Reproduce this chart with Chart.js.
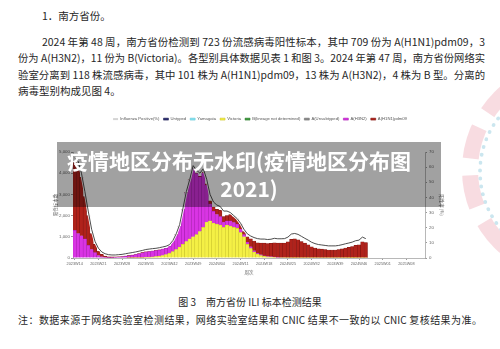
<!DOCTYPE html>
<html>
<head>
<meta charset="utf-8">
<script src="https://cdn.jsdelivr.net/npm/chart.js@4/dist/chart.umd.min.js"></script>
<style>
  html, body { margin: 0; padding: 0; background: #fff; }
  body { width: 500px; height: 349px; position: relative; overflow: hidden;
         font-family: "Noto Sans CJK SC", "Noto Sans", sans-serif; color: #262626; }
  .ln { position: absolute; font-size: 10.5px; line-height: 14px; white-space: nowrap; }
  .j { position: absolute; font-size: 10.5px; line-height: 14px;
       text-align: justify; text-align-last: justify; overflow: visible; }
  #deco1 { position: absolute; left: 462px; top: 60px; width: 220px; height: 220px; border-radius: 50%;
           border: 16px dashed rgba(232, 150, 165, 0.33); box-sizing: border-box; }
  #deco2 { position: absolute; left: 478px; top: 82px; width: 180px; height: 180px; border-radius: 50%;
           border: 4px dotted rgba(140, 200, 220, 0.45); box-sizing: border-box; }
  #chartBox { position: absolute; left: 48px; top: 104px; width: 404px; height: 172px; }
  #banner { position: absolute; left: 57px; top: 142px; width: 384px; height: 65px;
            background: rgba(0, 0, 0, 0.37); }
  .bt { position: absolute; color: #fff; font-weight: 700; font-size: 21px; line-height: 28px;
        white-space: nowrap; font-family: "Noto Sans CJK SC", sans-serif; }
</style>
</head>
<body>
<div id="deco1"></div>
<div id="deco2"></div>

<div class="ln" style="left:42px; top:9px;">1．南方省份。</div>
<div class="j" style="left:42px; top:34.5px; width:443px;">2024 年第 48 周，南方省份检测到 723 份流感病毒阳性标本，其中 709 份为 A(H1N1)pdm09，3</div>
<div class="j" style="left:18px; top:51px; width:467px;">份为 A(H3N2)，11 份为 B(Victoria)。各型别具体数据见表 1 和图 3。2024 年第 47 周，南方省份网络实</div>
<div class="j" style="left:18px; top:67.5px; width:467px;">验室分离到 118 株流感病毒，其中 101 株为 A(H1N1)pdm09，13 株为 A(H3N2)，4 株为 B 型。分离的</div>
<div class="ln" style="left:18px; top:84px;">病毒型别构成见图 4。</div>

<div id="chartBox"><canvas id="c" width="404" height="172"></canvas></div>

<div id="banner"></div>
<div class="bt" style="left:67px; top:146px;">疫情地区分布无水印(疫情地区分布图</div>
<div class="bt" style="left:57px; width:384px; text-align:center; top:174px;">2021)</div>

<div class="ln" style="left:0; width:500px; text-align:center; top:295px; font-size:10px;">图 3　南方省份 ILI 标本检测结果</div>
<div class="j" style="left:18px; top:313px; width:464px; font-size:10px;">注：数据来源于网络实验室检测结果，网络实验室结果和 CNIC 结果不一致的以 CNIC 复核结果为准。</div>

<script>
// Surveillance weeks on the category axis
const weekLabels = [
  '2023W14','2023W15','2023W16','2023W17','2023W18','2023W19','2023W20','2023W21','2023W22','2023W23',
  '2023W24','2023W25','2023W26','2023W27','2023W28','2023W29','2023W30','2023W31','2023W32','2023W33',
  '2023W34','2023W35','2023W36','2023W37','2023W38','2023W39','2023W40','2023W41','2023W42','2023W43',
  '2023W44','2023W45','2023W46','2023W47','2023W48','2023W49','2023W50','2023W51','2023W52',
  '2024W01','2024W02','2024W03','2024W04','2024W05','2024W06','2024W07','2024W08','2024W09','2024W10',
  '2024W11','2024W12','2024W13','2024W14','2024W15','2024W16','2024W17','2024W18','2024W19','2024W20',
  '2024W21','2024W22','2024W23','2024W24','2024W25','2024W26','2024W27','2024W28','2024W29','2024W30',
  '2024W31','2024W32','2024W33','2024W34','2024W35','2024W36','2024W37','2024W38','2024W39','2024W40',
  '2024W41','2024W42','2024W43','2024W44','2024W45','2024W46','2024W47','2024W48','2024W49','2024W50',
  '2024W51','2024W52',
  '2025W01','2025W02','2025W03','2025W04','2025W05','2025W06','2025W07','2025W08','2025W09','2025W10',
  '2025W11','2025W12','2025W13'
];

// Influenza positive rate (%), right axis
const positiveRate = [
  66, 64, 56, 44, 31, 19, 11, 6.5, 4, 2.8,
  2.2, 2.0, 2.0, 2.2, 2.4, 2.8, 3.2, 3.6, 4.0, 4.5,
  5.0, 5.6, 5.9, 6.2, 6.4, 6.8, 7.3, 7.8, 8.8, 11.5,
  16, 22, 33, 44, 52, 61, 58, 56, 59, 52,
  42, 37, 35, 34, 31, 31, 30, 28, 26, 23,
  19, 16, 14.5, 13.5, 12.8, 12.5, 12.5, 12.2, 12.4, 13.0,
  12.7, 12.7, 12.8, 13.8, 15.8, 16.2, 15.6, 14.3, 13.0, 11.8,
  10.4, 9.5, 8.9, 8.6, 8.3, 8.0, 8.0, 8.0, 8.3, 8.8,
  9.4, 9.9, 10.5, 11.4, 11.8, 13.8, 12.8
];

// Positive specimens by type / subtype (stacked, left axis)
const untyped = [];
const yamagata = [];
const victoria = [
  0, 0, 0, 0, 0, 0, 0, 0, 0, 0,
  0, 0, 0, 0, 0, 0, 5, 5, 8, 10,
  15, 30, 40, 50, 70, 90, 120, 160, 220, 300,
  400, 520, 650, 780, 900, 1000, 1100, 1250, 1450, 1700,
  1750, 1650, 1600, 1550, 1450, 1550, 1500, 1450, 1400, 1200,
  1000, 650, 450, 280, 180, 120, 80, 60, 45, 35,
  25, 20, 15, 10, 10, 8, 5, 5, 5, 5,
  5, 5, 4, 4, 3, 3, 3, 3, 4, 5,
  5, 6, 8, 8, 10, 12, 11
];
const bLineageND = [];
const aUnsubtyped = [];
const aH3N2 = [
  1300, 1150, 1050, 900, 600, 400, 250, 120, 60, 40,
  30, 30, 35, 45, 60, 80, 95, 125, 152, 190,
  225, 255, 265, 275, 275, 285, 295, 295, 330, 490,
  690, 970, 1635, 2305, 2780, 3230, 2880, 2575, 2570, 1740,
  800, 550, 450, 400, 250, 200, 250, 220, 200, 170,
  100, 100, 80, 60, 40, 30, 20, 15, 10, 10,
  10, 8, 5, 5, 5, 5, 5, 5, 5, 5,
  5, 5, 5, 5, 5, 4, 4, 4, 4, 4,
  5, 5, 5, 4, 4, 4, 3
];
const aH1N1 = [
  3200, 3150, 2750, 2000, 1400, 750, 400, 210, 110, 50,
  30, 20, 15, 15, 10, 10, 10, 10, 10, 10,
  10, 5, 5, 5, 5, 5, 5, 5, 10, 10,
  10, 10, 15, 15, 20, 20, 20, 25, 30, 60,
  150, 200, 250, 300, 250, 250, 300, 280, 250, 230,
  150, 250, 370, 460, 500, 550, 600, 605, 635, 675,
  665, 672, 680, 745, 865, 887, 850, 770, 690, 610,
  520, 460, 420, 410, 390, 370, 370, 370, 390, 420,
  460, 490, 530, 590, 610, 750, 709
];

const sansFamily = '"Liberation Sans", Arial, sans-serif';
const legendFont = { family: sansFamily, size: 4.2 };
const weekFont = { family: sansFamily, size: 3.8 };
const valueFont = { family: sansFamily, size: 4.4 };
const cjkFont = { family: '"Noto Sans CJK SC", sans-serif', size: 4.5 };
const axisGray = '#9a9a9a';
const textGray = '#666';

function barSet(label, data, fill, edge) {
  return {
    type: 'bar', label, data, yAxisID: 'y', stack: 'flu', order: 2,
    backgroundColor: fill, borderColor: edge, borderWidth: 0.5,
    barPercentage: 1, categoryPercentage: 1
  };
}

// Legend block: fixed height above the plot, nudged right of the canvas centre
const legendLayout = {
  id: 'legendLayout',
  beforeLayout(chart) {
    const lg = chart.legend;
    if (lg && !lg._patched) {
      const fit = lg.fit;
      lg.fit = function () { fit.call(this); this.height = 39; };
      lg._patched = true;
    }
  },
  afterLayout(chart) {
    const lg = chart.legend;
    if (lg) { lg.left += 10; lg.right += 10; }
  }
};

new Chart(document.getElementById('c'), {
  data: {
    labels: weekLabels,
    datasets: [
      { type: 'line', label: 'Influenza Positive(%)', data: positiveRate, yAxisID: 'y1', order: 0,
        borderColor: '#3a3a3a', backgroundColor: '#d4d4d4', borderWidth: 0.9,
        pointRadius: 0, tension: 0 },
      { type: 'line', label: 'halo', data: positiveRate, yAxisID: 'y1', order: 1,
        borderColor: 'rgba(255,255,255,0.95)', borderWidth: 2.6, pointRadius: 0, tension: 0 },
      barSet('Untyped', untyped, '#2d2f72', '#1e1f50'),
      barSet('Yamagata', yamagata, '#86e2f0', '#5cc2d2'),
      barSet('Victoria', victoria, '#f4f045', '#c6bf2a'),
      barSet('B(lineage not determined)', bLineageND, '#3f9c3f', '#2b772b'),
      barSet('A(Unsubtyped)', aUnsubtyped, '#8c8c8c', '#6a6a6a'),
      barSet('A(H3N2)', aH3N2, '#d934e4', '#a21bab'),
      barSet('A(H1N1)pdm09', aH1N1, '#b0221b', '#7a1410')
    ]
  },
  options: {
    responsive: false,
    animation: false,
    layout: { padding: { top: 9, left: 0, right: 0, bottom: 0 } },
    plugins: {
      legend: {
        position: 'top',
        labels: {
          boxWidth: 5, boxHeight: 2, padding: 4, color: '#555', font: legendFont,
          filter: (item) => item.text !== 'halo',
          generateLabels(chart) {
            const items = Chart.defaults.plugins.legend.labels.generateLabels(chart);
            items.forEach((it) => {
              if (it.text === 'Influenza Positive(%)') {
                it.fillStyle = '#d4d4d4'; it.strokeStyle = '#d4d4d4'; it.lineWidth = 0;
              }
            });
            return items;
          }
        }
      },
      tooltip: { enabled: false }
    },
    scales: {
      x: {
        stacked: true,
        offset: true,
        afterFit(s) { s.height = 18; },
        grid: {
          drawOnChartArea: false, tickLength: 2, offset: false,
          color: (ctx) => (ctx.index % 7 === 0 ? axisGray : 'rgba(0,0,0,0)')
        },
        border: { color: axisGray, width: 0.7 },
        ticks: {
          autoSkip: false, maxRotation: 0, minRotation: 0, padding: 1.5,
          font: weekFont, color: textGray,
          callback(v, i) { return i % 7 === 0 ? this.getLabelForValue(v) : ''; }
        },
        title: { display: true, text: '周次', font: cjkFont, color: textGray, padding: { top: 1, bottom: 1 } }
      },
      y: {
        position: 'left', stacked: true, min: 0, max: 5000,
        afterFit(s) { s.width = 25; },
        grid: { drawOnChartArea: false, tickLength: 2, color: axisGray },
        border: { color: axisGray, width: 0.7 },
        ticks: { stepSize: 1000, font: valueFont, color: textGray, padding: 1 },
        title: { display: true, text: '阳性标本数', font: cjkFont, color: textGray, padding: { top: 5, bottom: 0 } }
      },
      y1: {
        position: 'right', min: 0, max: 70,
        afterFit(s) { s.width = 27; },
        grid: { drawOnChartArea: false, tickLength: 2, color: axisGray },
        border: { color: axisGray, width: 0.7 },
        ticks: { stepSize: 10, font: valueFont, color: textGray, padding: 2 },
        title: { display: true, text: '阳性率 (%)', font: cjkFont, color: textGray, padding: { top: 8, bottom: 0 } }
      }
    }
  },
  plugins: [legendLayout]
});

// Justified paragraph lines: shrink the type slightly when a line would overflow its box
function fitLines() {
  document.querySelectorAll('.j').forEach((el) => {
    const txt = el.textContent;
    const probe = document.createElement('span');
    probe.style.whiteSpace = 'nowrap';
    probe.style.font = getComputedStyle(el).font;
    probe.style.position = 'absolute';
    probe.style.visibility = 'hidden';
    probe.textContent = txt;
    document.body.appendChild(probe);
    const w = probe.getBoundingClientRect().width;
    probe.remove();
    const target = el.clientWidth;
    if (w > target - 1) {
      const fs = parseFloat(getComputedStyle(el).fontSize);
      el.style.fontSize = (fs * (target - 2) / w) + 'px';
    }
  });
}
fitLines();
</script>
</body>
</html>
